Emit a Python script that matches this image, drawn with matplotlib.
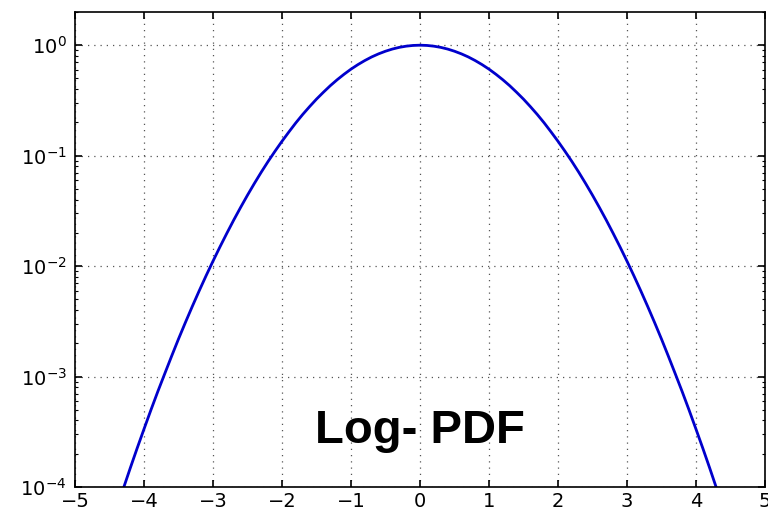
import matplotlib
matplotlib.use('Agg')
import matplotlib.pyplot as plt
from matplotlib.ticker import LogLocator

x_half = [0.0, 0.1, 0.2, 0.3, 0.4, 0.5, 0.6, 0.7, 0.8, 0.9,
          1.0, 1.1, 1.2, 1.3, 1.4, 1.5, 1.6, 1.7, 1.8, 1.9,
          2.0, 2.1, 2.2, 2.3, 2.4, 2.5, 2.6, 2.7, 2.8, 2.9,
          3.0, 3.1, 3.2, 3.3, 3.4, 3.5, 3.6, 3.7, 3.8, 3.9,
          4.0, 4.1, 4.2, 4.3]
y_half = [1.0, 0.995, 0.980, 0.956, 0.923, 0.882, 0.835, 0.783, 0.726, 0.667,
          0.607, 0.546, 0.487, 0.430, 0.375, 0.325, 0.278, 0.236, 0.198, 0.164,
          0.135, 0.110, 0.0889, 0.0710, 0.0561, 0.0439, 0.0340, 0.0261, 0.0198, 0.0149,
          0.0111, 0.00819, 0.00598, 0.00432, 0.00309, 0.00219, 0.00153, 0.00106, 0.000732, 0.000498,
          0.000335, 0.000224, 0.000148, 0.0000967]
x_ticks = [-5, -4, -3, -2, -1, 0, 1, 2, 3, 4, 5]
y_ticks = [1e-4, 1e-3, 1e-2, 1e-1, 1e0]
label = 'Log- PDF'

x_vals = [-v for v in x_half[:0:-1]] + x_half
y_vals = y_half[:0:-1] + y_half

fig = plt.figure(figsize=(7.68, 5.13), dpi=100)
ax = fig.add_axes([0.0977, 0.0507, 0.8983, 0.926])

ax.plot(x_vals, y_vals, color='#0000cc', lw=2.0)
ax.set_yscale('log')
ax.set_xlim(-5, 5)
ax.set_ylim(1e-4, 2.0)
ax.set_xticks(x_ticks)
ax.set_yticks(y_ticks)
ax.yaxis.set_minor_locator(LogLocator(base=10, subs=range(2, 10), numticks=20))
ax.yaxis.set_minor_formatter(plt.NullFormatter())

ax.grid(True, which='major', color='#555555', linestyle=(0, (1, 4)),
        linewidth=0.9)
ax.tick_params(which='both', direction='in', top=True, right=True,
               labelsize=14)
ax.tick_params(which='major', length=5, width=1.2)
ax.tick_params(which='minor', length=2.5, width=0.8)
ax.tick_params(axis='y', which='major', pad=6)
for sp in ax.spines.values():
    sp.set_linewidth(1.2)

ax.text(0, 2.5e-4, label, ha='center', va='baseline', fontsize=34,
        fontweight='bold', family=['Liberation Sans', 'DejaVu Sans'])

fig.savefig('out.png', dpi=100)
